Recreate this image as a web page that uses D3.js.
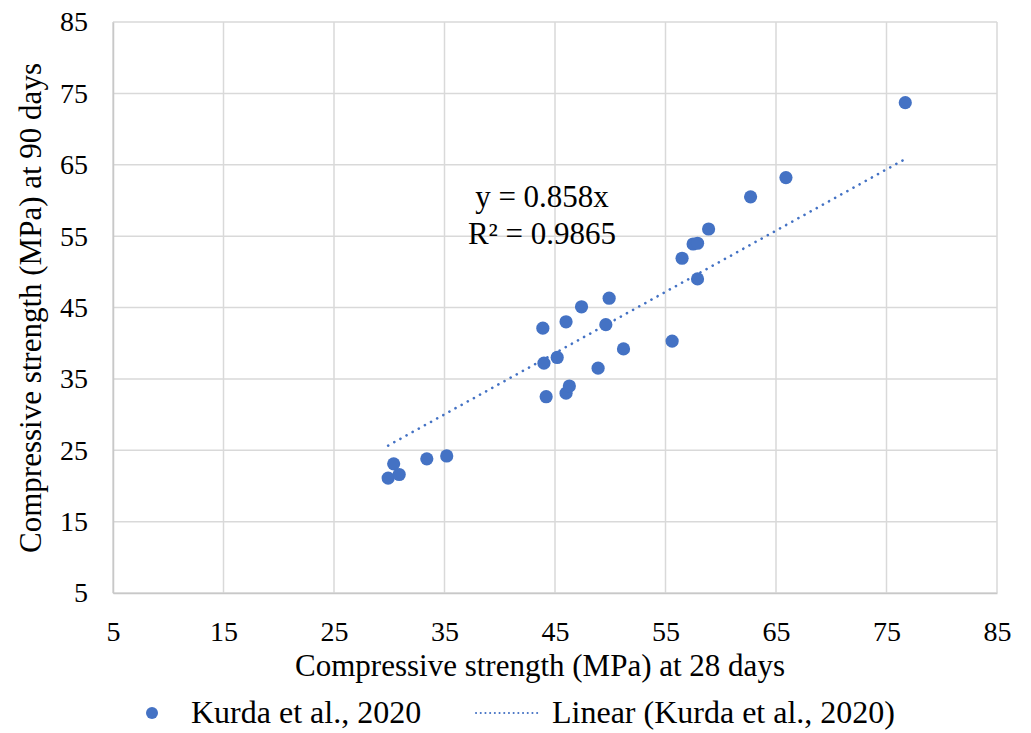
<!DOCTYPE html>
<html>
<head>
<meta charset="utf-8">
<script src="https://cdn.jsdelivr.net/npm/d3@7"></script>
<style>
  html, body { margin: 0; padding: 0; background: #fff; }
  svg { display: block; }
</style>
</head>
<body>
<svg id="chart" width="1031" height="733"></svg>
<script>
// Compressive strength at 28 days (MPa)
const strength28 = [29.9, 30.4, 30.9, 33.4, 35.2, 44.0, 43.9, 44.2, 45.2, 46.0, 46.0, 46.3, 47.4, 48.9,
                    49.9, 49.6, 51.2, 55.6, 56.5, 57.5, 57.9, 57.9, 58.9, 62.7, 65.9, 76.7];
// Compressive strength at 90 days (MPa)
const strength90 = [21.1, 23.1, 21.6, 23.8, 24.2, 37.2, 42.1, 32.5, 38.0, 43.0, 33.0, 34.0, 45.1, 36.5,
                    46.3, 42.6, 39.2, 40.3, 51.9, 53.9, 54.0, 49.0, 56.0, 60.5, 63.2, 73.7];
const xTicks = [5, 15, 25, 35, 45, 55, 65, 75, 85];
const yTicks = [5, 15, 25, 35, 45, 55, 65, 75, 85];
const slope = 0.858;
const rSquared = "0.9865";
const seriesName = "Kurda et al., 2020";

const FONT = "'Liberation Serif', 'Times New Roman', serif";
const svg = d3.select("#chart");
const blue = "#4472C4";
const grid = "#d9d9d9";

const x = d3.scaleLinear().domain([5, 85]).range([113, 997]);
const y = d3.scaleLinear().domain([5, 85]).range([593, 22]);

// gridlines
svg.append("g").selectAll("line").data(xTicks).join("line")
  .attr("x1", d => x(d)).attr("x2", d => x(d))
  .attr("y1", y(85)).attr("y2", y(5))
  .attr("stroke", grid).attr("stroke-width", 1.5);
svg.append("g").selectAll("line").data(yTicks).join("line")
  .attr("x1", x(5)).attr("x2", x(85))
  .attr("y1", d => y(d)).attr("y2", d => y(d))
  .attr("stroke", grid).attr("stroke-width", 1.5);

// axes
const xAxis = svg.append("g").attr("transform", `translate(0,${y(5)})`)
  .call(d3.axisBottom(x).tickValues(xTicks).tickSize(0).tickPadding(28).tickFormat(d3.format("d")));
const yAxis = svg.append("g").attr("transform", `translate(${x(5)},0)`)
  .call(d3.axisLeft(y).tickValues(yTicks).tickSize(0).tickPadding(25).tickFormat(d3.format("d")));
[xAxis, yAxis].forEach(a => {
  a.select(".domain").attr("stroke", "#c8c8c8").attr("stroke-width", 1.5);
  a.selectAll("text").style("font-family", FONT).style("font-size", "28px").attr("fill", "#000");
});

// linear trendline through the origin
const xMin = d3.min(strength28), xMax = d3.max(strength28);
svg.append("line")
  .attr("x1", x(xMin)).attr("y1", y(slope * xMin))
  .attr("x2", x(xMax)).attr("y2", y(slope * xMax))
  .attr("stroke", blue).attr("stroke-width", 2.6)
  .attr("stroke-dasharray", "0.1,6.9").attr("stroke-linecap", "round");

// data points
svg.append("g").selectAll("circle").data(strength28.map((v, i) => [v, strength90[i]])).join("circle")
  .attr("cx", d => x(d[0])).attr("cy", d => y(d[1]))
  .attr("r", 6.6).attr("fill", blue);

// equation label
const eq = svg.append("text").attr("text-anchor", "middle")
  .style("font-family", FONT).style("font-size", "31px").attr("fill", "#000");
eq.append("tspan").attr("x", 542).attr("y", 207).text(`y = ${slope}x`);
eq.append("tspan").attr("x", 542).attr("y", 244).text(`R² = ${rSquared}`);

// axis titles
svg.append("text").attr("x", 540).attr("y", 676).attr("text-anchor", "middle")
  .style("font-family", FONT).style("font-size", "31px").text("Compressive strength (MPa) at 28 days");
svg.append("text").attr("transform", "translate(41,308) rotate(-90)").attr("text-anchor", "middle")
  .style("font-family", FONT).style("font-size", "31px").text("Compressive strength (MPa) at 90 days");

// legend
const lg = svg.append("g");
lg.append("circle").attr("cx", 152).attr("cy", 713).attr("r", 6).attr("fill", blue);
lg.append("text").attr("x", 191).attr("y", 723)
  .style("font-family", FONT).style("font-size", "32px").text(seriesName);
lg.append("line").attr("x1", 476).attr("x2", 541).attr("y1", 713).attr("y2", 713)
  .attr("stroke", blue).attr("stroke-width", 2).attr("stroke-dasharray", "0.1,4.6").attr("stroke-linecap", "round");
lg.append("text").attr("x", 552).attr("y", 723)
  .style("font-family", FONT).style("font-size", "32px").text(`Linear (${seriesName})`);
</script>
</body>
</html>
